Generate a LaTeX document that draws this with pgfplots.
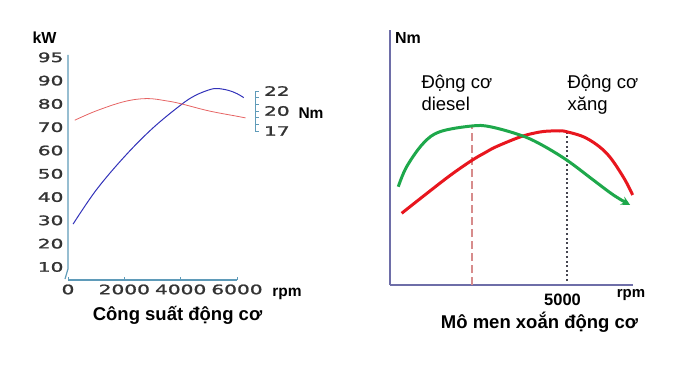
\documentclass[border=0pt]{standalone}
\usepackage{fontspec}
\setmainfont{Liberation Sans}
\newfontfamily\tickfont[FakeStretch=1.55,FakeBold=1.5]{DejaVu Sans}
\usepackage{pgfplots}
\pgfplotsset{compat=1.18}
\usetikzlibrary{arrows.meta}
\definecolor{axsteel}{RGB}{95,155,185}
\definecolor{axslate}{RGB}{110,110,168}
\definecolor{pblue}{RGB}{50,50,185}
\definecolor{pred}{RGB}{230,100,100}
\definecolor{tgreen}{RGB}{30,168,75}
\definecolor{tred}{RGB}{232,22,30}
\definecolor{dpink}{RGB}{215,140,140}
\definecolor{dgray}{RGB}{70,70,80}
\begin{document}
\begin{tikzpicture}
\useasboundingbox (0,0) rectangle (677pt,365pt);
% ---------- left chart ----------
\begin{axis}[
  at={(68pt,85pt)}, anchor=south west,
  scale only axis, width=169pt, height=225pt,
  xmin=0, xmax=6000, ymin=4.4, ymax=101,
  clip=false,
  axis x line=bottom, axis y line=left,
  axis line style={-},
  x axis line style={draw=axsteel, line width=1.2pt},
  y axis line style={draw=none},
  xtick={0,2000,4000,6000}, xticklabels={0,2000,4000,6000},
  ytick={10,20,30,40,50,60,70,80,90,100},
  yticklabels={10,20,30,40,50,60,70,80,90,95},
  tick align=inside,
  x tick style={draw=axsteel, line width=1pt},
  major tick length=3pt,
  y tick style={draw=none},
  tick label style={font=\tickfont\fontsize{13}{14}\selectfont, text=black!80},
  yticklabel style={anchor=east, xshift=-1pt},
  xticklabel style={yshift=-1pt},
]
\draw[axsteel, line width=1.2pt] (axis cs:0,101) -- (axis cs:0,9.2) -- ++(-3pt,0);
\addplot[pblue, line width=1pt, smooth, tension=0.6] coordinates {
 (180,28.4) (1000,43) (2000,57.3) (3000,69.5) (4000,79.5) (4500,83.5)
 (5000,86) (5300,86.6) (5700,85.8) (6000,84.4) (6240,82.7)};
\addplot[pred, line width=0.8pt, smooth, tension=0.6] coordinates {
 (240,73) (1000,77) (2000,81) (2800,82.3) (3500,81.3) (4000,80.1)
 (5000,77) (6000,74.7) (6300,74)};
\end{axis}
% ---------- secondary Nm scale ----------
\begin{axis}[
  at={(254pt,234pt)}, anchor=south west,
  scale only axis, width=1pt, height=40pt,
  xmin=0, xmax=1, ymin=0, ymax=2,
  hide x axis,
  axis y line=right, axis line style={-, draw=axsteel, line width=1pt},
  ytick={0,1,2}, yticklabels={17,20,22},
  minor y tick num=2,
  tick align=outside,
  major tick length=3.5pt, minor tick length=3.5pt,
  every tick/.style={draw=axsteel, line width=0.8pt},
  yticklabel style={font=\tickfont\fontsize{13}{14}\selectfont, text=black!80, anchor=west, xshift=2pt},
]
\addplot[draw=none] coordinates {(0,0) (1,2)};
\end{axis}
% ---------- right chart ----------
\begin{axis}[
  at={(390pt,80pt)}, anchor=south west,
  scale only axis, width=243pt, height=255pt,
  xmin=0, xmax=6880, ymin=0, ymax=255,
  clip=false,
  axis lines=left, axis line style={-, draw=axslate, line width=1.8pt},
  xtick=\empty, ytick=\empty,
]
\addplot[dpink, line width=2.2pt, dash pattern=on 8pt off 4pt] coordinates {(2313,0) (2313,159)};
\addplot[dgray, line width=2pt, dash pattern=on 2pt off 2.6pt] coordinates {(5000,4) (5000,153)};
\addplot[tred, line width=3pt, smooth, tension=0.6] coordinates {
 (330,71.7) (943,88.8) (1700,109.5) (2313,124.5) (2700,132.5) (3020,138.5)
 (3680,148) (4100,152) (4435,153.8) (4800,154) (5000,153.3) (5566,146.7)
 (6133,131.7) (6600,108.3) (6870,90)};
\addplot[tgreen, line width=3pt, smooth, tension=0.6, -{Stealth[length=9pt,width=9pt]}] coordinates {
 (235,98.3) (472,118.3) (943,141.7) (1416,153.3) (2313,159) (2830,158.3)
 (3680,150) (4250,141) (5000,125) (5755,105) (6325,90) (6800,80)};
\end{axis}
% ---------- texts ----------
\node[font=\bfseries\fontsize{16}{18}\selectfont] at (44.5pt,327pt) {kW};
\node[font=\bfseries\fontsize{15.5}{18}\selectfont] at (311pt,252pt) {Nm};
\node[font=\bfseries\fontsize{15.5}{18}\selectfont] at (287pt,71pt) {rpm};
\node[font=\bfseries\fontsize{18.5}{22}\selectfont] at (177.5pt,50pt) {Công suất động cơ};
\node[font=\bfseries\fontsize{16}{18}\selectfont] at (408pt,327pt) {Nm};
\node[font=\fontsize{18.5}{22}\selectfont, anchor=base west] at (418pt,276.7pt) {Động cơ};
\node[font=\fontsize{18.5}{22}\selectfont, anchor=base west] at (418pt,254.3pt) {diesel};
\node[font=\fontsize{18.5}{22}\selectfont, anchor=base west] at (564pt,276.7pt) {Động cơ};
\node[font=\fontsize{18.5}{22}\selectfont, anchor=base west] at (564pt,254.3pt) {xăng};
\node[font=\bfseries\fontsize{16.5}{18}\selectfont] at (562.5pt,65pt) {5000};
\node[font=\bfseries\fontsize{15}{18}\selectfont] at (631pt,70pt) {rpm};
\node[font=\bfseries\fontsize{18.5}{22}\selectfont] at (539.5pt,43pt) {Mô men xoắn động cơ};
\end{tikzpicture}
\end{document}
